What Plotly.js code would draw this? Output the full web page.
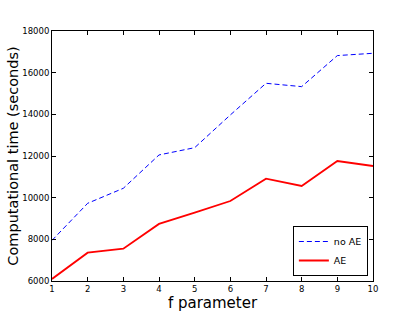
<!DOCTYPE html>
<html>
<head>
<meta charset="utf-8">
<script src="https://cdn.plot.ly/plotly-3.0.1.min.js"></script>
<style>
  body { margin: 0; background: #fff; }
  #chart { width: 415px; height: 313px; }
</style>
</head>
<body>
<div id="chart"></div>
<script>
// f parameter values
const fParam = [1, 2, 3, 4, 5, 6, 7, 8, 9, 10]
// computational time in seconds
const noAE = [7950, 9730, 10450, 12050, 12400, 13970, 15490, 15330, 16820, 16930]
const withAE = [6100, 7360, 7550, 8740, 9280, 9840, 10910, 10560, 11760, 11520]

const yTicks = [6000, 8000, 10000, 12000, 14000, 16000, 18000]
const yTickText = yTicks.map(v => String(v))

const axisBase = {
    showline: true,
    linecolor: 'black',
    linewidth: 1,
    mirror: 'ticks',
    ticks: 'inside',
    ticklen: 4,
    tickcolor: 'black',
    showgrid: false,
    zeroline: false,
    tickfont: { family: 'DejaVu Sans', size: 8.5, color: 'black' }
}

const traces = [
    {
        x: fParam,
        y: noAE,
        name: 'no AE',
        mode: 'lines',
        line: { color: 'rgb(0,0,255)', width: 1, dash: '5px,3px' }
    },
    {
        x: fParam,
        y: withAE,
        name: 'AE',
        mode: 'lines',
        line: { color: 'rgb(255,0,0)', width: 1.8 }
    }
]

const layout = {
    width: 415,
    height: 313,
    margin: { l: 52, r: 42, t: 31, b: 32 },
    paper_bgcolor: 'white',
    plot_bgcolor: 'white',
    font: { family: 'DejaVu Sans', color: 'black' },
    showlegend: true,
    xaxis: Object.assign({}, axisBase, {
        range: [1, 10],
        tickvals: fParam,
        title: { text: 'f parameter', font: { size: 15 }, standoff: 3 }
    }),
    yaxis: Object.assign({}, axisBase, {
        range: [6000, 18000],
        tickvals: yTicks,
        ticktext: yTickText,
        title: { text: 'Computational time (seconds)', font: { size: 14.5 }, standoff: 0 }
    }),
    legend: {
        x: 0.984,
        xanchor: 'right',
        y: 0.02,
        yanchor: 'bottom',
        bgcolor: 'white',
        bordercolor: 'black',
        borderwidth: 1,
        font: { size: 9.5 },
        itemwidth: 30,
        tracegroupgap: 0
    }
}

Plotly.newPlot('chart', traces, layout, { displayModeBar: false, staticPlot: true })
</script>
</body>
</html>
